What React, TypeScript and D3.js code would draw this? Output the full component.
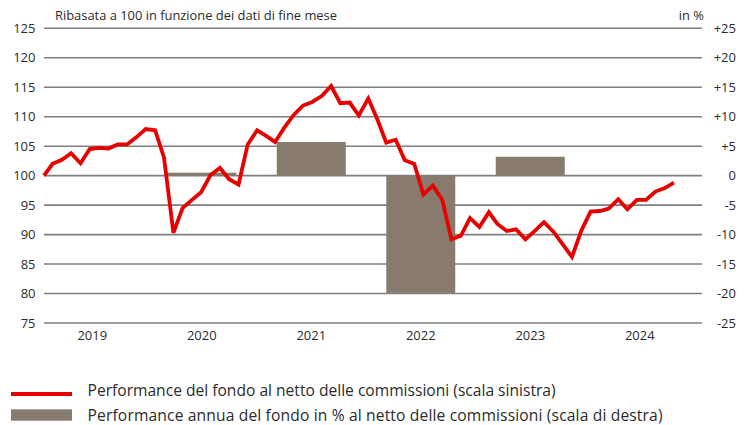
import React from "react";
import * as d3 from "d3";

const months: string[] = [
  "2019-01","2019-02","2019-03","2019-04","2019-05","2019-06","2019-07","2019-08","2019-09","2019-10","2019-11","2019-12",
  "2020-01","2020-02","2020-03","2020-04","2020-05","2020-06","2020-07","2020-08","2020-09","2020-10","2020-11","2020-12",
  "2021-01","2021-02","2021-03","2021-04","2021-05","2021-06","2021-07","2021-08","2021-09","2021-10","2021-11","2021-12",
  "2022-01","2022-02","2022-03","2022-04","2022-05","2022-06","2022-07","2022-08","2022-09","2022-10","2022-11","2022-12",
  "2023-01","2023-02","2023-03","2023-04","2023-05","2023-06","2023-07","2023-08","2023-09","2023-10","2023-11","2023-12",
  "2024-01","2024-02","2024-03","2024-04","2024-05","2024-06","2024-07","2024-08","2024-09",
];

const fundIndex: number[] = [
  100.0, 102.0, 102.7, 103.8, 102.1, 104.5, 104.7, 104.6, 105.3, 105.3, 106.5, 107.9,
  107.7, 103.1, 90.3, 94.5, 95.9, 97.2, 100.1, 101.3, 99.4, 98.5, 105.3, 107.7,
  106.7, 105.7, 108.2, 110.3, 111.9, 112.5, 113.5, 115.2, 112.3, 112.4, 110.2, 113.1,
  109.4, 105.6, 106.1, 102.6, 102.0, 96.8, 98.3, 95.9, 89.2, 89.8, 92.8, 91.3,
  93.8, 91.8, 90.6, 90.9, 89.2, 90.6, 92.1, 90.5, 88.4, 86.2, 90.6, 93.9,
  94.0, 94.4, 96.0, 94.3, 95.9, 95.9, 97.3, 97.9, 98.8,
];

const years: string[] = ["2019", "2020", "2021", "2022", "2023", "2024"];
const barYears: string[] = ["2020", "2021", "2022", "2023"];
const barValues: number[] = [0.5, 5.7, -19.9, 3.2];

const leftTicks: number[] = [75, 80, 85, 90, 95, 100, 105, 110, 115, 120, 125];
const rightTicks: number[] = [-25, -20, -15, -10, -5, 0, 5, 10, 15, 20, 25];

const titleLeft = "Ribasata a 100 in funzione dei dati di fine mese";
const titleRight = "in %";
const legendLine = "Performance del fondo al netto delle commissioni (scala sinistra)";
const legendBar = "Performance annua del fondo in % al netto delle commissioni (scala di destra)";

const W = 747;
const H = 425;
const plotL = 44;
const plotR = 702;
const FONT = "'Open Sans', 'Noto Sans', sans-serif";
const RED = "#e60000";
const BAR = "#887b6d";
const GRID = "#7f7f7f";
const TXT = "#2b2b2b";

export default function App() {
  const parse = d3.utcParse("%Y-%m");
  const dates = months.map((m) => d3.utcDay.offset(d3.utcMonth.offset(parse(m)!, 1), -1));
  const x = d3
    .scaleUtc()
    .domain([new Date(Date.UTC(2019, 0, 31)), new Date(Date.UTC(2024, 11, 31))])
    .range([plotL, plotR]);
  const yL = d3.scaleLinear().domain([75, 125]).range([323, 28.3]);
  const yR = d3.scaleLinear().domain([-25, 25]).range([323, 28.3]);
  const band = d3
    .scaleBand<string>()
    .domain(years)
    .range([37.5, 694.5])
    .paddingInner(0.37)
    .paddingOuter(0.185);

  const line = d3
    .line<number>()
    .x((_, i) => x(dates[i]))
    .y((d) => yL(d))
    .curve(d3.curveLinear);

  const fmtR = (v: number) => (v > 0 ? `+${v}` : v < 0 ? `-${Math.abs(v)}` : "0");

  return (
    <svg
      width={W}
      height={H}
      style={{ position: "absolute", left: 0, top: 0, background: "#fff" }}
      fontFamily={FONT}
    >
      {leftTicks.map((t) => (
        <line key={"g" + t} x1={plotL} x2={plotR} y1={yL(t)} y2={yL(t)} stroke={GRID} strokeWidth={1.6} />
      ))}
      {barYears.map((yr, i) => {
        const v = barValues[i];
        const y0 = yR(Math.max(0, v));
        const y1 = yR(Math.min(0, v));
        return (
          <rect key={"b" + yr} x={band(yr)!} width={band.bandwidth()} y={y0} height={y1 - y0} fill={BAR} />
        );
      })}
      <path d={line(fundIndex)!} fill="none" stroke={RED} strokeWidth={3.8} strokeLinejoin="miter" strokeMiterlimit={3} />
      {leftTicks.map((t) => (
        <text key={"l" + t} x={35.5} y={yL(t)} dy="0.36em" textAnchor="end" fontSize={13} fill={TXT}>
          {t}
        </text>
      ))}
      {rightTicks.map((t) => (
        <text key={"r" + t} x={736} y={yR(t)} dy="0.36em" textAnchor="end" fontSize={13} fill={TXT}>
          {fmtR(t)}
        </text>
      ))}
      {years.map((yr) => (
        <text key={"y" + yr} x={band(yr)! + band.bandwidth() / 2} y={340} textAnchor="middle" fontSize={13} fill={TXT}>
          {yr}
        </text>
      ))}
      <text x={55} y={19.5} fontSize={12.9} fill={TXT}>
        {titleLeft}
      </text>
      <text x={704} y={19.5} textAnchor="end" fontSize={12.9} fill={TXT}>
        {titleRight}
      </text>
      <line x1={11} x2={72} y1={394} y2={394} stroke={RED} strokeWidth={4} />
      <text x={87.5} y={396} fontSize={15.6} fill={TXT}>
        {legendLine}
      </text>
      <rect x={11} y={409.3} width={61} height={11.4} fill={BAR} />
      <text x={87.5} y={420.5} fontSize={15.6} letterSpacing={0.15} fill={TXT}>
        {legendBar}
      </text>
    </svg>
  );
}
